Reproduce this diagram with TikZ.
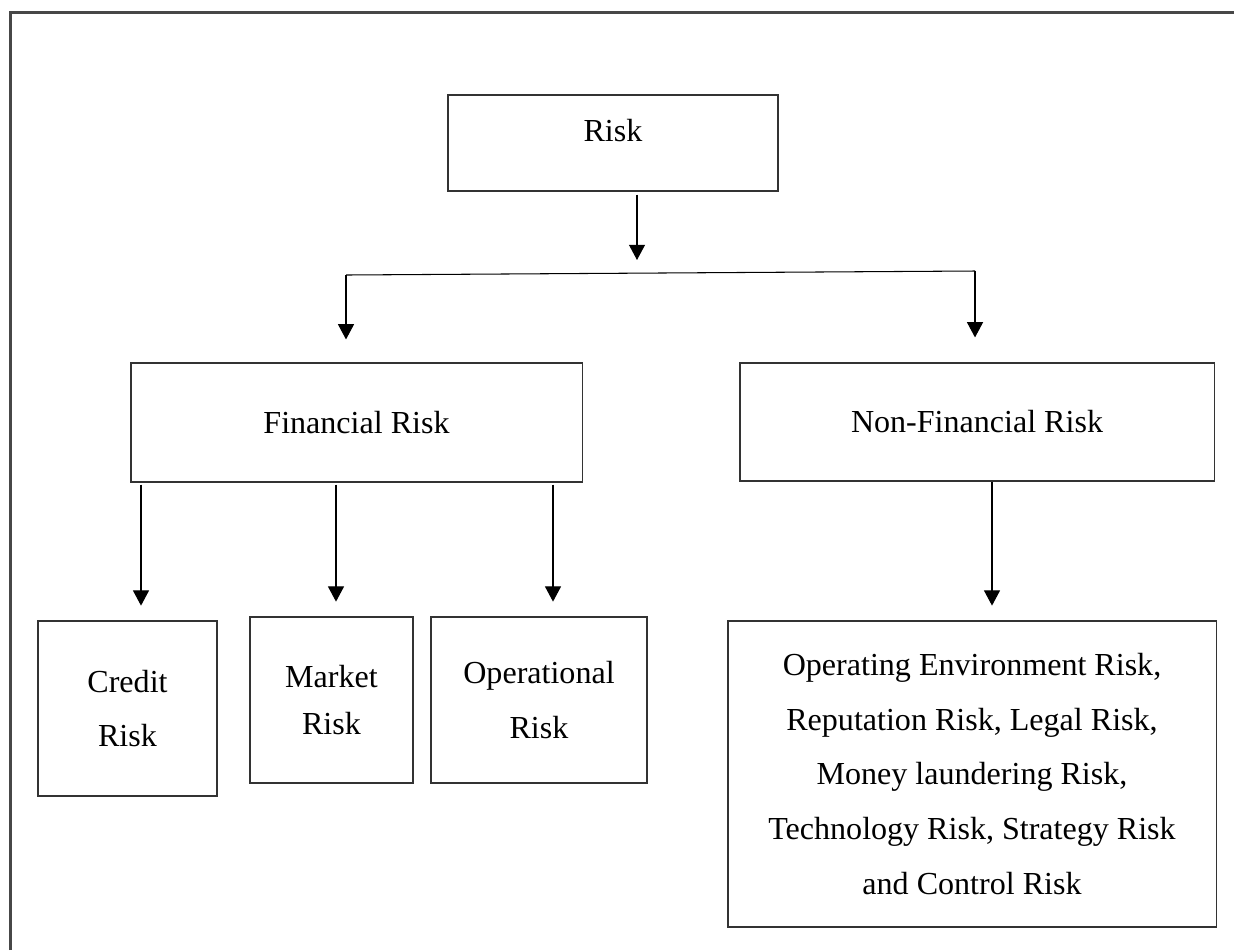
\documentclass[tikz,border=0pt]{standalone}
\usepackage{fontspec}
\setmainfont{Liberation Serif}
\usetikzlibrary{arrows.meta}
\begin{document}
\begin{tikzpicture}[x=0.025cm, y=-0.025cm,
    box/.style={draw=black!80, line width=0.8pt, inner sep=0pt, align=center,
        font=\fontsize{22.8}{39}\selectfont},
    arr/.style={-{Triangle[length=0.38cm, width=0.4cm]}, line width=0.75pt}]
    \useasboundingbox (0,0) rectangle (1234,950);

    % 1. Frame
    \draw[line width=2.1pt, color=black!72] (10.5,950) -- (10.5,12.5) -- (1234,12.5);

    % 2. Boxes
    \node[box, minimum width=8.25cm, minimum height=2.4cm, text depth=0.65cm] (risk) at (613,143) {Risk};
    \node[box, minimum width=11.275cm, minimum height=2.975cm] (fin) at (356.5,422.5) {Financial Risk};
    \node[box, minimum width=11.85cm, minimum height=2.95cm] (nfin) at (977,422) {Non-Financial Risk};
    \node[box, minimum width=4.475cm, minimum height=4.375cm] (credit) at (127.5,708.5) {Credit\\Risk};
    \node[box, minimum width=4.075cm, minimum height=4.15cm,
        font=\fontsize{22.8}{33}\selectfont] (market) at (331.5,700) {Market\\Risk};
    \node[box, minimum width=5.4cm, minimum height=4.15cm] (oper) at (539,700) {Operational\\Risk};
    \node[box, minimum width=12.2cm, minimum height=7.65cm] (other) at (972,774)
        {Operating Environment Risk,\\Reputation Risk, Legal Risk,\\Money laundering Risk,\\Technology Risk, Strategy Risk\\and Control Risk};

    % 3. Risk -> branch
    \coordinate (split) at (637,260);
    \draw[arr, shorten <=0.075cm] (risk.south -| split) -- (split);
    \coordinate (brL) at (346,275);
    \coordinate (brR) at (975,271);
    \draw[line width=0.75pt] (brL) -- (brR);
    \draw[arr, shorten >=0.575cm] (brL) -- (brL |- fin.north);
    \draw[arr, shorten >=0.625cm] (brR) -- (brR |- nfin.north);

    % 4. Financial Risk -> kinds
    \foreach \px/\child in {141/credit, 336/market, 553/oper}{
        \coordinate (drop) at (\px,0);
        \draw[arr, shorten <=0.05cm, shorten >=0.37cm] (fin.south -| drop) -- (\child.north -| drop);
    }

    % 5. Non-Financial Risk -> list
    \coordinate (nfdrop) at (992,0);
    \draw[arr, shorten >=0.37cm] (nfin.south -| nfdrop) -- (other.north -| nfdrop);
\end{tikzpicture}
\end{document}
